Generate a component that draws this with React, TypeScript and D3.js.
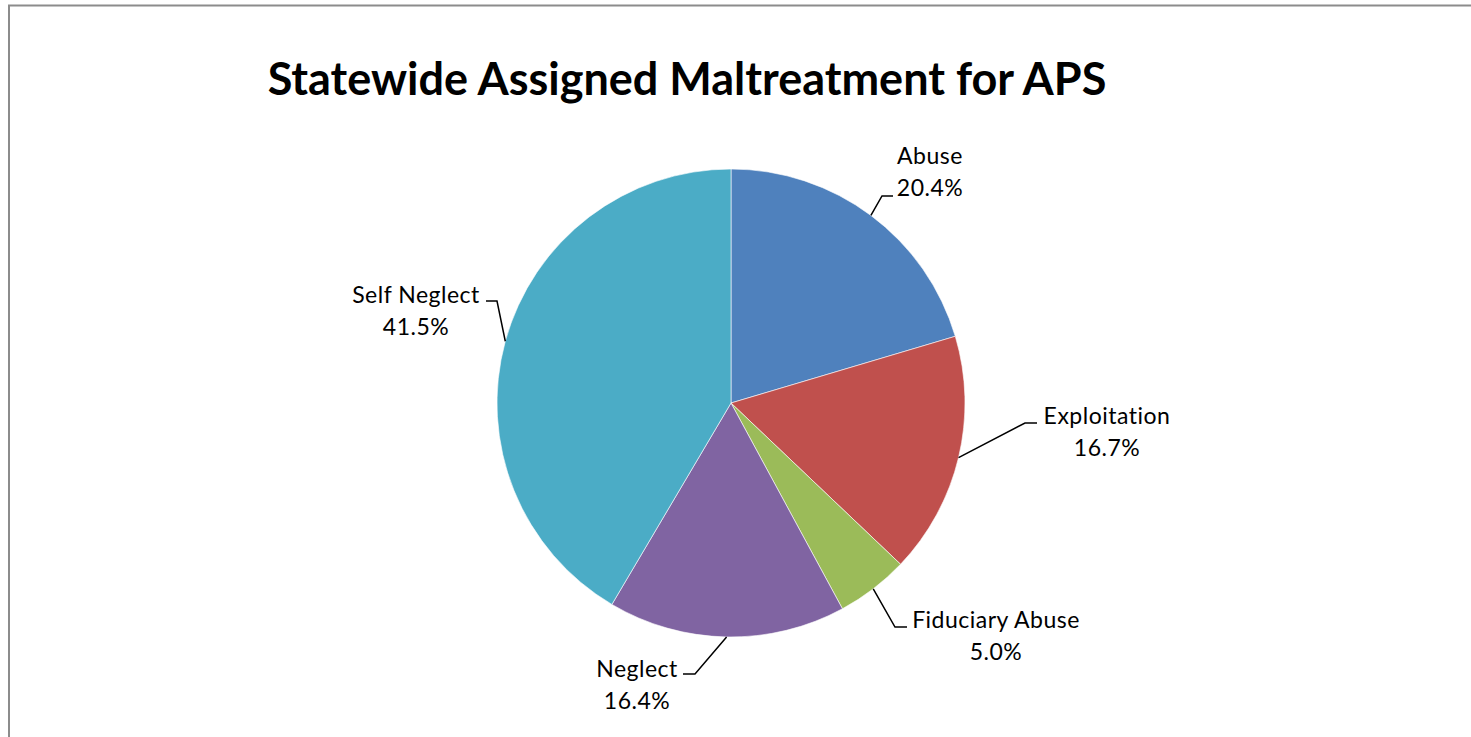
import React, { useEffect, useRef } from 'react';
import * as d3 from 'd3';

const categories = ['Abuse', 'Exploitation', 'Fiduciary Abuse', 'Neglect', 'Self Neglect'];
const shares = [20.4, 16.7, 5.0, 16.4, 41.5];
const colors = ['#4F81BD', '#C0504D', '#9BBB59', '#8064A2', '#4BACC6'];

// label centre (x, first-line baseline) and leader elbow / end points
const labelPos = [
  { x: 930, y: 164, elbow: [882, 196], end: [893, 196] },
  { x: 1107, y: 424, elbow: [1025, 423], end: [1037, 423] },
  { x: 996, y: 628, elbow: [895, 627], end: [907, 627] },
  { x: 637, y: 677, elbow: [695, 674], end: [683, 674] },
  { x: 416, y: 303, elbow: [497, 301], end: [486, 301] },
];

const W = 1471;
const H = 737;
const cx = 731;
const cy = 403;
const radius = 234;
const font = 'Lato, "Open Sans", sans-serif';

const App = () => {
  const svgRef = useRef(null);

  useEffect(() => {
    const svg = d3.select(svgRef.current);
    svg.selectAll('*').remove();

    // chart frame
    svg
      .append('rect')
      .attr('x', 9)
      .attr('y', 5.5)
      .attr('width', W + 50)
      .attr('height', H + 50)
      .attr('fill', '#fff')
      .attr('stroke', '#8c8c8c')
      .attr('stroke-width', 2);

    svg
      .append('text')
      .attr('x', 687)
      .attr('y', 95)
      .attr('text-anchor', 'middle')
      .attr('font-family', font)
      .attr('font-weight', 'bold')
      .attr('font-size', 45)
      .attr('fill', '#000')
      .text('Statewide Assigned Maltreatment for APS');

    const data = categories.map((c, i) => ({ name: c, value: shares[i], i }));
    const pie = d3
      .pie()
      .value((d) => d.value)
      .sort(null);
    const arcs = pie(data);
    const arc = d3.arc().innerRadius(0).outerRadius(radius);

    const g = svg.append('g').attr('transform', `translate(${cx},${cy})`);
    g.selectAll('path')
      .data(arcs)
      .enter()
      .append('path')
      .attr('d', arc)
      .attr('fill', (d) => colors[d.data.i])
      .attr('stroke', '#fff')
      .attr('stroke-width', 0.6);

    // leader lines + labels
    arcs.forEach((a) => {
      const mid = (a.startAngle + a.endAngle) / 2;
      const sx = cx + radius * Math.sin(mid);
      const sy = cy - radius * Math.cos(mid);
      const p = labelPos[a.data.i];
      svg
        .append('polyline')
        .attr('points', `${sx},${sy} ${p.elbow[0]},${p.elbow[1]} ${p.end[0]},${p.end[1]}`)
        .attr('fill', 'none')
        .attr('stroke', '#000')
        .attr('stroke-width', 1.5);

      const t = svg
        .append('text')
        .attr('text-anchor', 'middle')
        .attr('font-family', font)
        .attr('font-size', 23)
        .attr('letter-spacing', 0.5)
        .attr('fill', '#000');
      t.append('tspan').attr('x', p.x).attr('y', p.y).text(a.data.name);
      t.append('tspan')
        .attr('x', p.x)
        .attr('y', p.y + 32)
        .text(`${a.data.value.toFixed(1)}%`);
    });

    return () => {
      svg.selectAll('*').remove();
    };
  }, []);

  return (
    <div style={{ position: 'absolute', left: 0, top: 0, background: '#fff' }}>
      <svg ref={svgRef} width={W} height={H} style={{ display: 'block' }}></svg>
    </div>
  );
};

export default App;
